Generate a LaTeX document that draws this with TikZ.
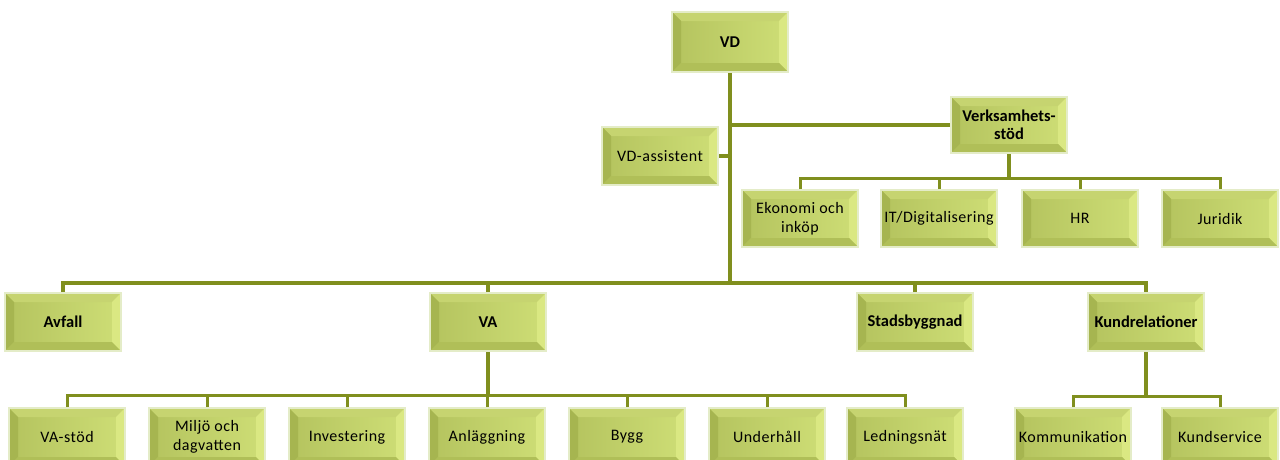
\documentclass[tikz,border=0pt]{standalone}
\usepackage{fontspec}
\setmainfont{Carlito}
\definecolor{ln}{RGB}{128,143,30}
\definecolor{glow}{RGB}{228,236,200}
\definecolor{bl}{RGB}{180,195,94}
\definecolor{br}{RGB}{206,222,118}
\definecolor{btop}{RGB}{198,212,112}
\definecolor{bleft}{RGB}{166,181,80}
\definecolor{bright}{RGB}{218,232,130}
\definecolor{bbot}{RGB}{176,191,88}
\tikzset{
  box/.style={minimum width=116pt, minimum height=58pt, inner sep=2pt, align=center,
    font=\fontsize{16}{18.5}\selectfont\addfontfeatures{LetterSpace=3}, draw=glow, line width=2pt, left color=bl, right color=br,
    path picture={
      \coordinate (ppnw) at (path picture bounding box.north west);
      \coordinate (ppne) at (path picture bounding box.north east);
      \coordinate (ppsw) at (path picture bounding box.south west);
      \coordinate (ppse) at (path picture bounding box.south east);
      \coordinate (pinw) at ([shift={(9pt,-9pt)}]ppnw);
      \coordinate (pine) at ([shift={(-9pt,-9pt)}]ppne);
      \coordinate (pisw) at ([shift={(9pt,9pt)}]ppsw);
      \coordinate (pise) at ([shift={(-9pt,9pt)}]ppse);
      \fill[btop] (ppnw) -- (ppne) -- (pine) -- (pinw) -- cycle;
      \fill[bleft] (ppnw) -- (pinw) -- (pisw) -- (ppsw) -- cycle;
      \fill[bright] (ppne) -- (pine) -- (pise) -- (ppse) -- cycle;
      \fill[bbot] (ppsw) -- (pisw) -- (pise) -- (ppse) -- cycle;
    }},
  hbox/.style={box, font=\fontsize{16.5}{18.5}\selectfont\bfseries},
  trunk/.style={draw=ln, line width=4.5pt},
  bus/.style={draw=ln, line width=3.5pt},
  sbus/.style={draw=ln, line width=3pt},
}
\begin{document}
\begin{tikzpicture}[x=1pt,y=-1pt]
\useasboundingbox (0,0) rectangle (1280,459);
\clip (0,0) rectangle (1280,459);
% top
\node[hbox, minimum height=60pt] (vd) at (730,42) {VD};
\node[hbox, minimum height=56pt] (vs) at (1009,125) {Verksamhets-\\stöd};
\node[box] (vda) at (660,156) {VD-assistent};
% level 3 (support)
\node[box, minimum height=57pt] (eko) at (800,218.5) {Ekonomi och\\inköp};
\node[box, minimum height=57pt] (it) at (939,218.5) {IT/Digitalisering};
\node[box, minimum height=57pt] (hr) at (1080,218.5) {HR};
\node[box, minimum height=57pt] (jur) at (1220,218.5) {Juridik};
% level 2
\node[hbox] (avf) at (63,322) {Avfall};
\node[hbox] (va) at (488,322) {VA};
\node[hbox] (sb) at (915,322) {Stadsbyggnad};
\node[hbox] (kr) at (1146,322) {Kundrelationer};
% bottom
\node[box] (vastod) at (67,437) {VA-stöd};
\node[box] (miljo) at (207,437) {Miljö och\\dagvatten};
\node[box] (inv) at (347,437) {Investering};
\node[box] (anl) at (487,437) {Anläggning};
\node[box] (bygg) at (627,437) {Bygg};
\node[box] (uh) at (767,437) {Underhåll};
\node[box] (ledn) at (905,437) {Ledningsnät};
\node[box] (kom) at (1073,437) {Kommunikation};
\node[box] (ks) at (1220,437) {Kundservice};
% bus coordinates
\coordinate (b2) at (730,283);
\coordinate (b3) at (1009,178);
\coordinate (b4) at (488,395);
\coordinate (b5) at (1146,396);
% connectors
\draw[trunk] (vd.south) -- (b2);
\draw[bus] (vd.south |- vs.west) -- (vs.west);
\draw[bus] (vd.south |- vda.east) -- (vda.east);
\draw[bus] (avf.north) |- (b2) -| (kr.north);
\draw[bus] (va.north) -- (va.north |- b2);
\draw[bus] (sb.north) -- (sb.north |- b2);
\draw[trunk] (vs.south) -- (b3);
\draw[sbus] (eko.north) |- (b3) -| (jur.north);
\draw[sbus] (it.north) -- (it.north |- b3);
\draw[sbus] (hr.north) -- (hr.north |- b3);
\draw[trunk] (va.south) -- (b4);
\draw[sbus] (vastod.north) |- (b4) -| (ledn.north);
\draw[sbus] (miljo.north) -- (miljo.north |- b4);
\draw[sbus] (inv.north) -- (inv.north |- b4);
\draw[sbus] (anl.north) -- (anl.north |- b4);
\draw[sbus] (bygg.north) -- (bygg.north |- b4);
\draw[sbus] (uh.north) -- (uh.north |- b4);
\draw[trunk] (kr.south) -- (b5);
\draw[sbus] (kom.north) |- (b5) -| (ks.north);
\end{tikzpicture}
\end{document}
